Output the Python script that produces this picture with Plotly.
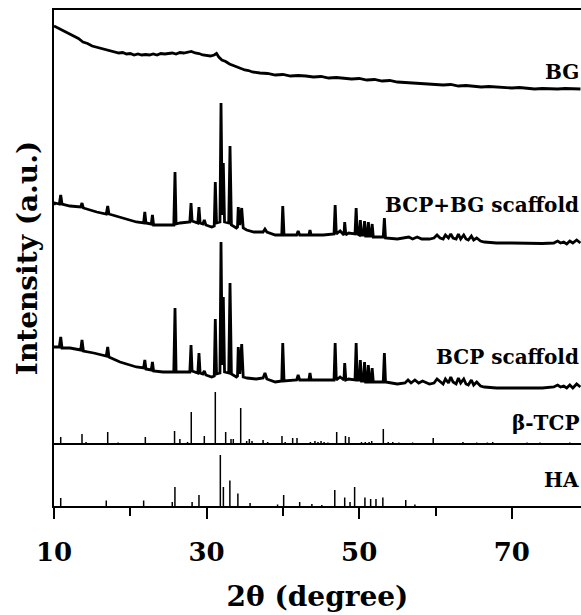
import plotly.graph_objects as go

# ---------------- data ----------------
# 2-theta (degree) and intensity (a.u.) of the measured patterns
bg_x = [10.0, 10.5, 11.0, 11.5, 12.0, 12.6, 13.2, 13.8, 14.4, 15.0, 15.5, 16.0, 16.5, 17.0, 17.5,
        18.0, 18.5, 19.0, 19.5, 20.0, 20.5, 21.0, 21.5, 22.0, 22.5, 23.0, 23.5, 24.0, 24.5, 25.0,
        25.5, 26.0, 26.5, 27.0, 27.5, 28.0, 28.5, 29.0, 29.5, 30.0, 30.5, 31.0, 31.3, 31.6, 32.0,
        32.5, 33.0, 33.5, 34.0, 34.5, 35.0, 35.5, 36.0, 37.0, 38.0, 39.0, 40.0, 41.0, 42.0, 43.0,
        44.0, 45.0, 46.0, 47.0, 48.0, 49.0, 50.0, 51.0, 52.0, 53.0, 54.0, 55.0, 56.0, 57.0, 58.0,
        59.0, 60.0, 61.0, 62.0, 63.0, 64.0, 65.0, 66.0, 67.0, 68.0, 69.0, 70.0, 71.0, 72.0, 73.0,
        74.0, 75.0, 76.0, 77.0, 78.0, 79.0]
bg_y = [69, 67, 65.5, 63, 61.5, 59, 56.5, 53, 51.5, 49, 48, 47.5, 46, 45.5, 44,
        43.5, 42, 42.5, 41, 41.5, 40, 41, 40, 40.5, 40, 41, 40, 41.5, 41, 41.5,
        42, 41, 42.5, 42, 43, 43.5, 42, 41.5, 40, 39.5, 39, 40, 41.5, 38, 35,
        33.5, 31, 29.5, 28, 26.5, 25, 24.5, 23, 22, 21.5, 20, 20.5, 19, 19.5, 19,
        18, 18.5, 17, 17.5, 17, 16, 16.5, 15, 15.5, 14, 14.5, 13, 12.5, 12, 11.5,
        11, 10.5, 10, 10.5, 9, 9.5, 9, 8, 8.5, 8, 8, 7, 7.5, 7, 6,
        6.5, 6, 6, 6.5, 6, 6]

bcpbg_x = [10.0, 10.13, 10.7, 10.88, 11.05, 12.1, 13.5, 13.67, 13.85, 15.6, 16.85, 17.04, 17.2,
           18.65, 20.8, 21.75, 21.9, 22.05, 22.75, 22.9, 23.05, 24.3, 25.7, 25.86, 26.0, 26.5,
           27.8, 27.96, 28.1, 28.85, 29.0, 29.15, 29.5, 29.7, 29.9, 30.67, 31.0, 31.14, 31.3,
           31.75, 31.89, 32.05, 32.19, 32.35, 32.9, 33.07, 33.25, 33.9, 34.05, 34.15, 34.35,
           34.6, 34.8, 35.25, 36.2, 37.4, 37.65, 37.9, 39.0, 39.85, 39.98, 40.15, 41.8, 42.0,
           42.2, 43.4, 43.55, 43.7, 45.3, 46.7, 46.85, 47.0, 47.5, 48.0, 48.1, 48.25, 48.6,
           49.45, 49.6, 49.75, 50.0, 50.15, 50.3, 50.55, 50.7, 50.85, 51.05, 51.2, 51.35, 51.55,
           51.7, 51.85, 53.15, 53.3, 53.45, 55.0, 56.0, 56.5, 57.0, 57.6, 58.2, 59.2, 59.8,
           60.2, 60.6, 61.0, 61.3, 61.7, 62.0, 62.3, 62.7, 63.0, 63.3, 63.7, 64.0, 64.3, 64.7,
           65.0, 65.4, 65.9, 66.4, 68.0, 70.0, 72.0, 74.0, 75.5, 76.0, 76.4, 76.8, 77.2, 77.6,
           78.0, 78.5, 79.0]
bcpbg_y = [40, 42, 41, 50, 41, 39, 38, 42, 37, 33, 31, 39, 31,
           28, 23, 22, 33, 22, 21, 30, 20, 20, 20, 73, 21, 22,
           23, 42, 24, 22, 38, 22, 21, 25, 20, 18, 19, 63, 22,
           23, 142, 30, 82, 23, 22, 99, 20, 17, 18, 38, 20,
           37, 17, 15, 13, 13, 16, 13, 10, 10, 39, 10, 10, 14,
           10, 10, 15, 10, 10, 11, 40, 11, 14, 10, 23, 10, 12,
           11, 37, 11, 10, 25, 10, 10, 24, 9, 9, 23, 9, 9,
           21, 8, 8, 27, 7, 6, 7, 8, 6, 8, 6, 6, 7,
           10, 7, 6, 10, 7, 11, 7, 6, 11, 6, 10, 6, 5, 9,
           5, 7, 4, 3, 2, 2, 1.5, 1.5, 2, 4, 2, 3, 1, 4,
           2, 5, 2]

bcp_x = [10.0, 10.13, 10.7, 10.88, 11.05, 12.1, 13.5, 13.67, 13.85, 15.2, 16.85, 17.04, 17.2,
         18.65, 20.8, 21.75, 21.9, 22.05, 22.75, 22.9, 23.05, 24.3, 25.7, 25.86, 26.0, 26.9,
         27.8, 27.96, 28.1, 28.85, 29.0, 29.15, 29.5, 29.7, 29.9, 30.67, 31.0, 31.14, 31.3,
         31.75, 31.89, 32.05, 32.19, 32.35, 32.9, 33.07, 33.25, 33.9, 34.05, 34.15, 34.35,
         34.6, 34.8, 35.3, 36.5, 37.4, 37.65, 37.9, 39.0, 39.85, 39.98, 40.15, 41.8, 42.0,
         42.2, 43.4, 43.55, 43.7, 45.3, 46.7, 46.85, 47.0, 47.5, 48.0, 48.1, 48.25, 48.6,
         49.45, 49.6, 49.75, 50.0, 50.15, 50.3, 50.55, 50.7, 50.85, 51.05, 51.2, 51.35, 51.55,
         51.7, 51.85, 53.15, 53.3, 53.45, 55.0, 56.0, 56.4, 56.8, 57.3, 57.8, 58.3, 59.2,
         59.8, 60.2, 60.6, 61.0, 61.3, 61.7, 62.0, 62.3, 62.7, 63.0, 63.3, 63.7, 64.0, 64.3,
         64.7, 65.0, 65.4, 65.9, 66.4, 68.0, 70.0, 72.0, 74.0, 75.5, 76.0, 76.4, 76.8, 77.2,
         77.6, 78.0, 78.5, 79.0]
bcp_y = [43, 43, 43, 53, 42, 42, 40, 50, 39, 37, 34, 43, 33,
         28, 23, 22, 30, 21, 20, 28, 19, 18, 18, 82, 18, 18,
         18, 45, 19, 17, 37, 17, 16, 19, 15, 13, 14, 71, 16,
         17, 148, 25, 93, 18, 17, 107, 16, 13, 14, 43, 16,
         46, 13, 12, 11, 12, 17, 11, 8, 9, 47, 9, 10, 15,
         10, 10, 17, 10, 10, 10, 47, 10, 13, 10, 27, 10, 11,
         10, 47, 10, 10, 30, 9, 9, 28, 8, 8, 25, 8, 8,
         22, 8, 8, 37, 8, 6, 7, 10, 7, 10, 7, 9, 6,
         7, 11, 8, 6, 11, 7, 13, 8, 6, 12, 7, 11, 6, 5,
         10, 5, 8, 4, 3, 2, 2, 2, 2, 3, 5, 3, 4, 2,
         5, 2, 6, 3]

# reference patterns: stick positions (2-theta) and relative intensities
tcp_pos = [10.88, 13.67, 14.2, 17.04, 18.4, 20.2, 21.97, 25.8, 26.5, 27.5, 27.99, 29.7, 31.14,
           32.5, 33.2, 33.5, 34.47, 35.25, 35.6, 35.95, 37.4, 38.0, 39.88, 40.3, 41.28, 41.85,
           43.6, 44.2, 44.6, 45.0, 45.4, 45.9, 47.05, 48.2, 48.66, 50.3, 50.8, 51.3, 51.64,
           53.16, 53.8, 54.4, 55.2, 56.0, 57.0, 57.5, 59.7, 60.5, 61.5, 63.6, 65.4, 66.0,
           66.8, 67.5, 71.1, 72.0, 73.0, 73.7, 75.9, 77.6]
tcp_int = [7, 10, 2, 12, 1.5, 1, 7, 13, 5, 2, 32, 8, 52,
           12, 5, 5, 36, 3, 5, 3, 4, 2, 8, 2, 6, 6,
           2, 3, 2, 3, 2, 1.5, 12, 8, 7, 2, 2, 2, 3,
           15, 2, 2, 1.5, 1, 1.5, 1, 6, 1, 1, 2, 1.5, 1,
           1.5, 2, 1, 1.5, 1, 1.5, 1, 1.5]

ha_pos = [10.88, 16.85, 21.75, 25.5, 25.85, 28.1, 29.0, 31.8, 32.2, 33.05, 34.1, 35.7, 39.3,
          40.1, 42.2, 43.8, 45.1, 46.8, 48.1, 48.8, 49.4, 50.75, 51.5, 52.2, 53.1, 56.1, 57.3]
ha_int = [8, 5.5, 5.5, 4, 19, 4, 11, 51, 19, 25.5, 12.5, 3, 1.5,
          11, 4, 2, 1, 16, 8.5, 4, 19, 8.5, 7, 7, 8.5, 6, 1.5]

series_names = ["BG", "BCP+BG scaffold", "BCP scaffold", "β-TCP", "HA"]
series_offsets = [411, 261, 116, 62, 0]
label_heights = [23, 40, 33, 21, 26]

x_ticks = [10, 30, 50, 70]
x_minor_ticks = [20, 40, 60]

# ---------------- figure ----------------
fig = go.Figure()
measured = [(bg_x, bg_y), (bcpbg_x, bcpbg_y), (bcp_x, bcp_y)]
for (xs, ys), off in zip(measured, series_offsets[:3]):
    fig.add_trace(go.Scatter(x=xs, y=[v + off for v in ys], mode="lines",
                             line=dict(color="black", width=2.8), hoverinfo="skip"))

for pos, inten, off in [(tcp_pos, tcp_int, series_offsets[3]), (ha_pos, ha_int, series_offsets[4])]:
    sx, sy = [], []
    for p, h in zip(pos, inten):
        sx += [p, p, None]
        sy += [off, off + h, None]
    fig.add_trace(go.Scatter(x=sx, y=sy, mode="lines",
                             line=dict(color="black", width=1.5), hoverinfo="skip"))

# baseline of the beta-TCP reference pattern (separator)
fig.add_trace(go.Scatter(x=[10, 90], y=[series_offsets[3]] * 2, mode="lines",
                         line=dict(color="black", width=2), hoverinfo="skip"))

serif = "DejaVu Serif"
for name, off, dh in zip(series_names, series_offsets, label_heights):
    fig.add_annotation(x=1, xref="paper", y=off + dh, yref="y", text=name,
                       showarrow=False, xanchor="right", yanchor="middle",
                       font=dict(family=serif, size=20, color="black", weight="bold"))

fig.update_layout(
    width=581, height=615,
    margin=dict(l=54, r=0, t=10, b=109),
    paper_bgcolor="white", plot_bgcolor="white",
    showlegend=False,
    xaxis=dict(range=[10, 79.07], tickvals=x_ticks, ticks="outside", ticklen=11,
               tickwidth=1.5, tickcolor="black", showline=True, linecolor="black",
               linewidth=1.5, mirror=True, showgrid=False, zeroline=False,
               ticklabelstandoff=11,
               minor=dict(tickvals=x_minor_ticks, ticks="outside", ticklen=8,
                          tickwidth=1.5, tickcolor="black", showgrid=False),
               tickfont=dict(family=serif, size=26, color="black", weight="bold"),
               title=dict(text="2θ (degree)", standoff=20,
                          font=dict(family=serif, size=28, color="black", weight="bold"))),
    yaxis=dict(range=[0, 496], showticklabels=False, ticks="", showgrid=False,
               zeroline=False, showline=True, linecolor="black", linewidth=1.5,
               title=dict(text="Intensity (a.u.)", standoff=6,
                          font=dict(family=serif, size=28, color="black", weight="bold"))),
)

fig.write_html("out.html", config={"displayModeBar": False},
               post_script="document.body.style.margin='0';")
